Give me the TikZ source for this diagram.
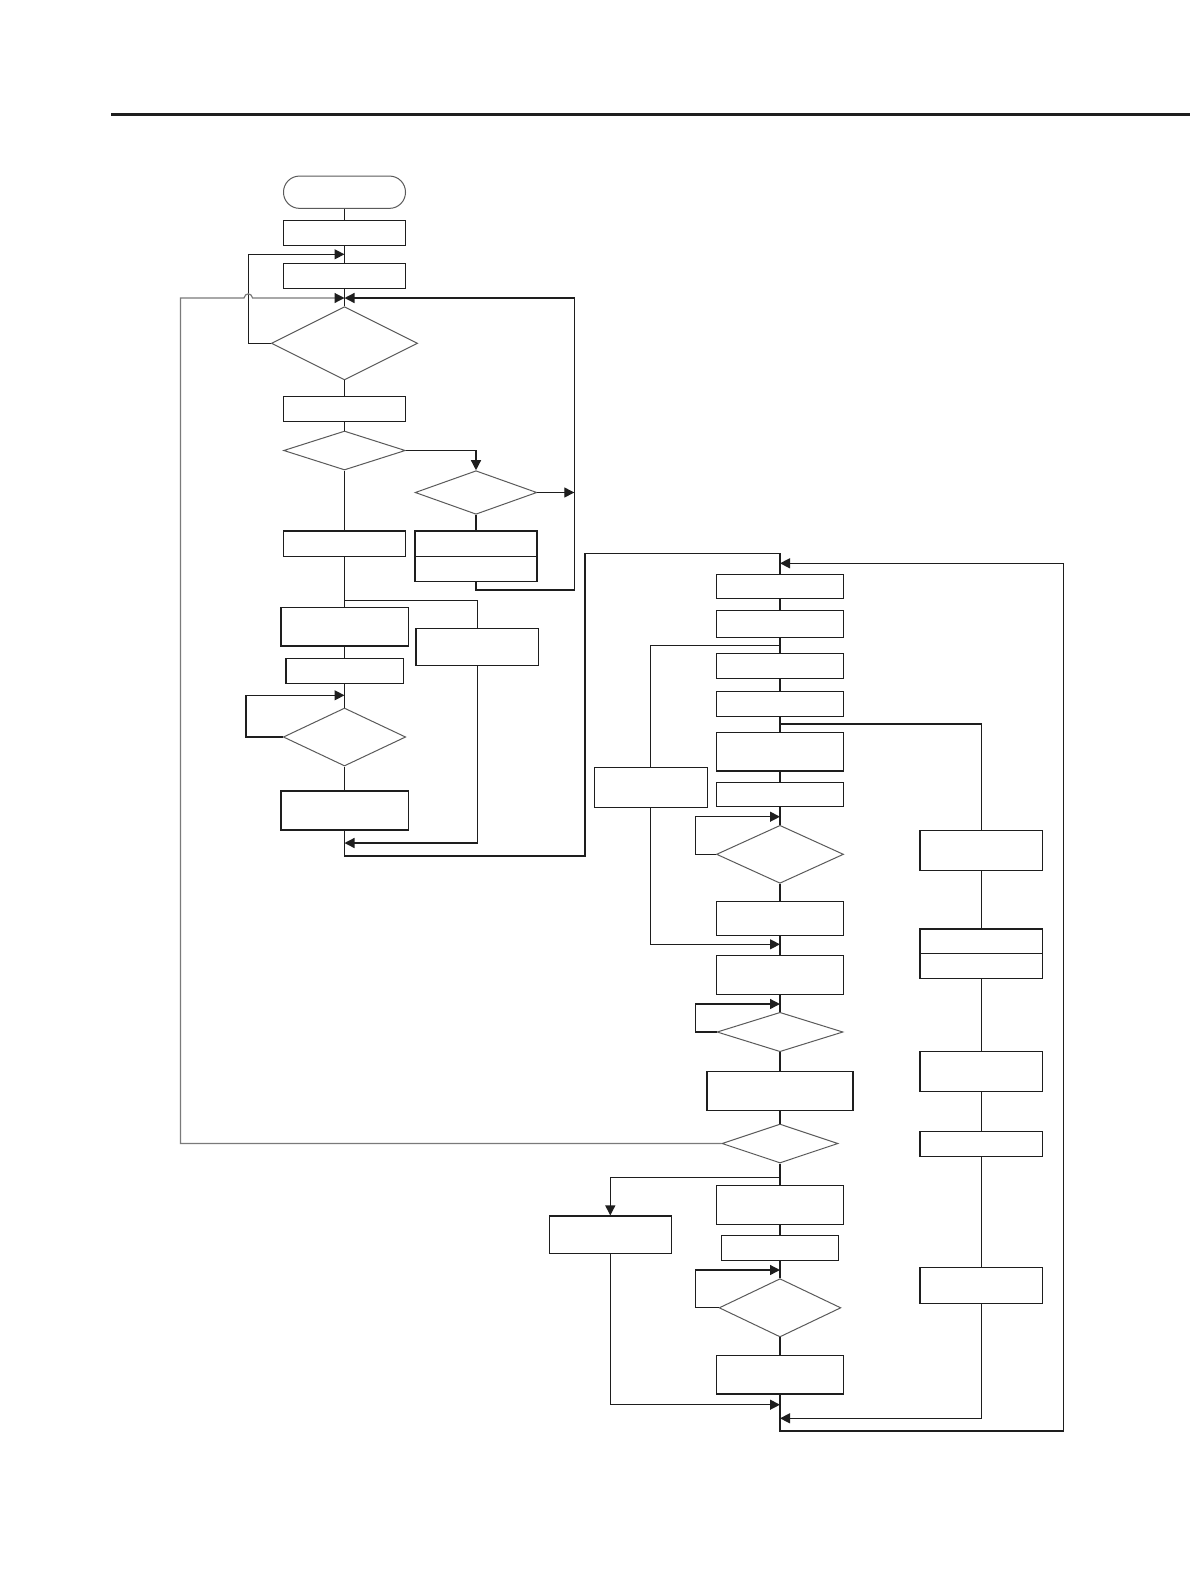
\documentclass[tikz,border=0pt]{standalone}
\usetikzlibrary{arrows.meta,shapes.geometric}
\definecolor{ink}{HTML}{1E1E1E}
\definecolor{dgray}{HTML}{5A5A5A}
\definecolor{lgray}{HTML}{7A7A7A}
\begin{document}
\begin{tikzpicture}[x=0.5pt,y=-0.5pt,
  box/.style={draw=ink, line width=0.65pt, inner sep=0pt, rectangle},
  dia/.style={draw=dgray, line width=0.5pt, inner sep=0pt, shape=diamond},
  term/.style={draw=dgray, line width=0.5pt, inner sep=0pt, rectangle, rounded corners=8pt},
  ln/.style={draw=ink, line width=0.65pt},
  arr/.style={ln, -{Triangle[length=5pt,width=5pt]}},
  gln/.style={draw=lgray, line width=0.6pt, -{Triangle[length=5pt,width=5pt,color=ink]}},
]
\fill[white] (0,0) rectangle (1190,1586);
\useasboundingbox (0,0) rectangle (1190,1586);

% top rule
\coordinate (r1) at (111.3,114.4);
\coordinate (r2) at (1190,114.4);
\draw[ink, line width=1.1pt] (r1) -- (r2);

% ---------- column 1 ----------
\node[term, minimum width=61pt, minimum height=16.15pt] (start) at (344.5,192.2) {};
\node[box, minimum width=61.2pt, minimum height=12.5pt] (b1) at (344.5,232.8) {};
\node[box, minimum width=61.2pt, minimum height=12.5pt] (b2) at (344.5,275.8) {};
\node[dia, minimum width=73.15pt, minimum height=36.65pt] (d1) at (344.5,343.3) {};
\node[box, minimum width=61.2pt, minimum height=12.5pt] (b3) at (344.5,408.8) {};
\node[dia, minimum width=60.85pt, minimum height=19.5pt] (d2) at (344.5,450.5) {};
\node[box, minimum width=61.2pt, minimum height=12.65pt] (b4) at (344.5,543.7) {};
\node[box, minimum width=63.65pt, minimum height=19.35pt] (b7) at (344.5,626.7) {};
\node[box, minimum width=58.65pt, minimum height=12.5pt] (b8) at (344.5,670.8) {};
\node[dia, minimum width=61.2pt, minimum height=29pt] (d4) at (344.5,737) {};
\node[box, minimum width=63.65pt, minimum height=19.5pt] (b9) at (344.5,810.5) {};

\node[dia, minimum width=60.85pt, minimum height=21.8pt] (d3) at (476,492.5) {};
\node[box, minimum width=61pt, minimum height=25.15pt] (b5) at (476,556.2) {};
\node[box, minimum width=61.15pt, minimum height=18.5pt] (b6) at (477.2,646.8) {};

% ---------- column 2 ----------
\node[box, minimum width=63.5pt, minimum height=12pt] (A) at (780,586.3) {};
\node[box, minimum width=63.5pt, minimum height=13.5pt] (B) at (780,623.8) {};
\node[box, minimum width=63.5pt, minimum height=12.5pt] (C) at (780,665.8) {};
\node[box, minimum width=63.5pt, minimum height=12.5pt] (D) at (780,703.8) {};
\node[box, minimum width=63.5pt, minimum height=19.35pt] (E) at (780,751.7) {};
\node[box, minimum width=63.5pt, minimum height=12pt] (F) at (780,794.3) {};
\node[dia, minimum width=63.5pt, minimum height=29pt] (d5) at (780,854.3) {};
\node[box, minimum width=63.5pt, minimum height=17.1pt] (G) at (780,918.4) {};
\node[box, minimum width=63.5pt, minimum height=19.5pt] (H) at (780,974.8) {};
\node[dia, minimum width=63pt, minimum height=19.7pt] (d6) at (780,1032) {};
\node[box, minimum width=73pt, minimum height=19.5pt] (I) at (780,1090.8) {};
\node[dia, minimum width=58pt, minimum height=19.5pt] (d7) at (780,1143.5) {};
\node[box, minimum width=63.5pt, minimum height=19.5pt] (J) at (780,1204.8) {};
\node[box, minimum width=58.5pt, minimum height=12.5pt] (K) at (780,1247.8) {};
\node[dia, minimum width=60.85pt, minimum height=29.15pt] (d8) at (780,1307.8) {};
\node[box, minimum width=63.5pt, minimum height=19.35pt] (L) at (780,1374.7) {};

\node[box, minimum width=56.5pt, minimum height=19.8pt] (L1) at (650.8,787.5) {};
\node[box, minimum width=61pt, minimum height=18.65pt] (L2) at (610.3,1234.7) {};

\node[box, minimum width=61.35pt, minimum height=20pt] (R1) at (981.3,850.3) {};
\node[box, minimum width=61.35pt, minimum height=24.65pt] (R2) at (981.3,953.7) {};
\node[box, minimum width=61.35pt, minimum height=20pt] (R3) at (981.3,1071.3) {};
\node[box, minimum width=61.35pt, minimum height=12.5pt] (R4) at (981.3,1143.8) {};
\node[box, minimum width=61.35pt, minimum height=18pt] (R5) at (981.3,1285.3) {};

% dividers of double boxes
\draw[ln] (b5.west) -- (b5.east);
\draw[ln] (R2.west) -- (R2.east);

% ---------- coordinates ----------
\coordinate (jA) at (344.5,254.3);
\coordinate (lp1) at (248.3,254.3);
\coordinate (j1) at (344.5,298);
\coordinate (rc1) at (574.3,590);
\coordinate (rc2) at (574.3,492.5);
\coordinate (br1) at (344.5,600.3);
\coordinate (lp2) at (246,695.3);
\coordinate (jB) at (344.5,695.3);
\coordinate (jC) at (344.5,843);
\coordinate (c1) at (585,856);
\coordinate (c2) at (780,553.3);
\coordinate (jD) at (780,563.3);
\coordinate (c3) at (780,1431);
\coordinate (c4) at (1063.3,1431);
\coordinate (br2) at (780,645.3);
\coordinate (jE) at (780,944.3);
\coordinate (br3) at (780,724);
\coordinate (jF) at (780,1418.3);
\coordinate (lp3) at (695.3,816.7);
\coordinate (jG) at (780,816.7);
\coordinate (lp4) at (695.3,1004);
\coordinate (jH) at (780,1004);
\coordinate (lp5) at (695.3,1270);
\coordinate (jI) at (780,1270);
\coordinate (br4) at (780,1177.3);
\coordinate (jJ) at (780,1404.7);
\coordinate (g1) at (180.5,1143.5);
\coordinate (g2) at (180.5,298);
\coordinate (g3) at (244,298);
\coordinate (g4) at (252.6,298);

% ---------- connectors column 1 ----------
\draw[ln] (start) -- (b1) -- (b2) -- (d1) -- (b3) -- (d2) -- (b4) -- (b7) -- (b8) -- (d4) -- (b9);
\draw[arr] (d1.west) -| (lp1) -- (jA);
\draw[gln] (d7.west) -- (g1) -- (g2) -- (g3) .. controls (245,292.5) and (251.6,292.5) .. (g4) -- (j1);
\draw[arr] (b5.south) |- (rc1) |- (j1);
\draw[arr] (d2.east) -| (d3.north);
\draw[arr] (d3.east) -- (rc2);
\draw[ln] (d3) -- (b5);
\draw[ln] (br1) -| (b6.north);
\draw[arr] (d4.west) -| (lp2) -- (jB);
\draw[arr] (b6.south) |- (jC);
\draw[ln] (b9.south) |- (c1) |- (c2) -- (A.north);

% ---------- connectors column 2 ----------
\draw[ln] (A) -- (B) -- (C) -- (D) -- (E) -- (F) -- (d5) -- (G) -- (H) -- (d6) -- (I) -- (d7) -- (J) -- (K) -- (d8) -- (L);
\draw[arr] (L.south) -- (c3) -- (c4) |- (jD);
\draw[ln] (br2) -| (L1.north);
\draw[arr] (L1.south) |- (jE);
\draw[ln] (br3) -| (R1.north);
\draw[ln] (R1) -- (R2) -- (R3) -- (R4) -- (R5);
\draw[arr] (R5.south) |- (jF);
\draw[arr] (d5.west) -| (lp3) -- (jG);
\draw[arr] (d6.west) -| (lp4) -- (jH);
\draw[arr] (d8.west) -| (lp5) -- (jI);
\draw[arr] (br4) -| (L2.north);
\draw[arr] (L2.south) |- (jJ);
\end{tikzpicture}
\end{document}
